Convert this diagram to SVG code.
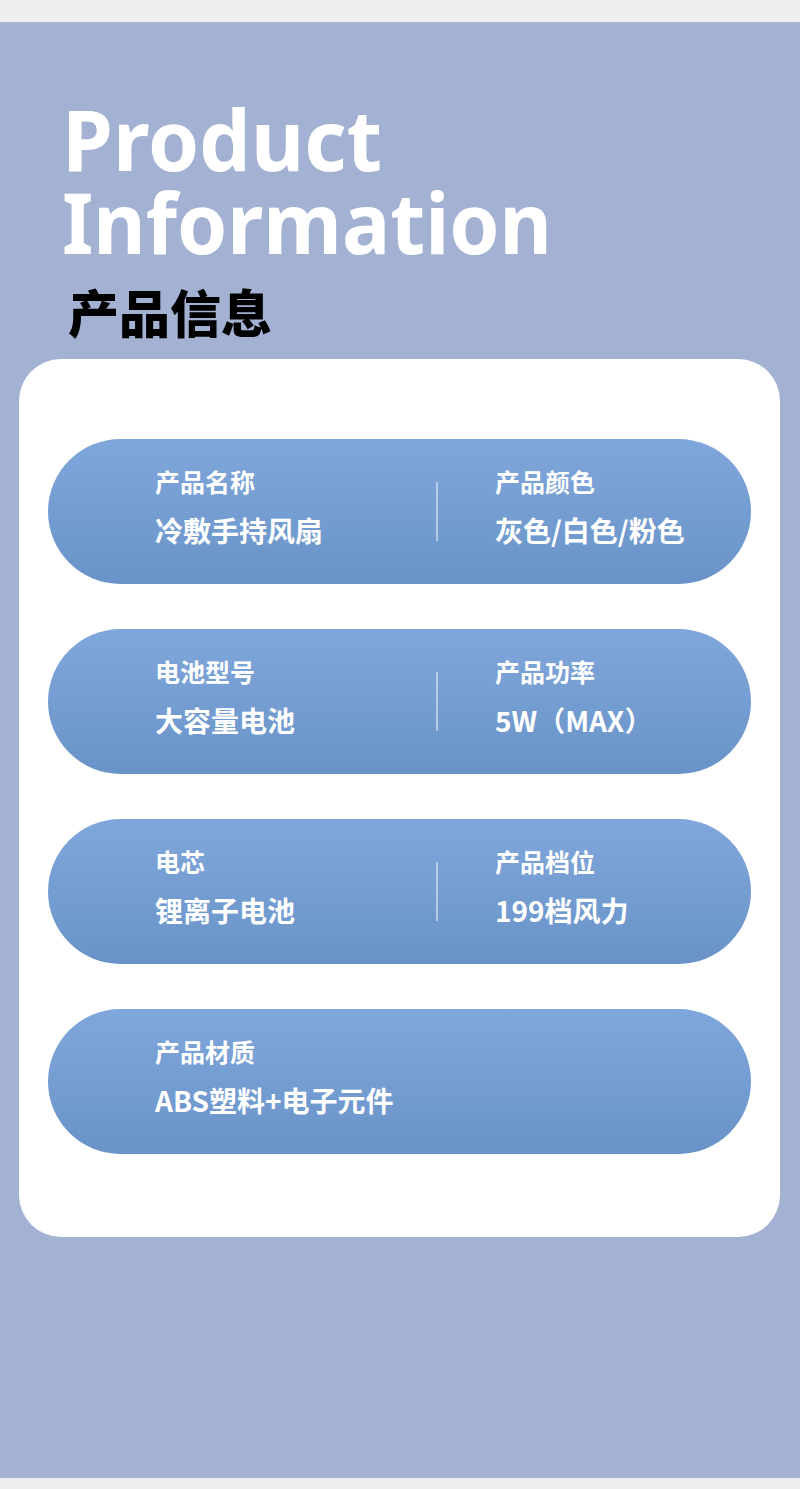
<svg xmlns="http://www.w3.org/2000/svg" width="800" height="1489" viewBox="0 0 800 1489">
<defs>
<linearGradient id="pg" x1="0" y1="0" x2="0" y2="1"><stop offset="0" stop-color="#80a7db"/><stop offset="1" stop-color="#6993c8"/></linearGradient>
<style>
.l{font-family:"Noto Sans CJK SC","Noto Sans",sans-serif;font-weight:bold;font-size:25px;fill:#fff}
.v{font-family:"Noto Sans CJK SC","Noto Sans",sans-serif;font-weight:bold;font-size:28px;fill:#fff}
.d{stroke:#fff;stroke-width:1.2;opacity:0.8}
.t{font-family:"Noto Sans",sans-serif;font-weight:bold;font-size:84px;fill:#fff}
</style>
</defs>
<rect width="800" height="1489" fill="#efefef"/>
<rect y="22" width="800" height="1456" fill="#a3b2d3"/>
<text class="t" x="62" y="171" textLength="320" lengthAdjust="spacingAndGlyphs">Product</text>
<text class="t" x="62" y="254" textLength="490" lengthAdjust="spacingAndGlyphs">Information</text>
<text x="68" y="333" font-family="Noto Sans CJK SC,sans-serif" font-weight="900" font-size="51" fill="#000">产品信息</text>
<rect x="19" y="359" width="761" height="878" rx="42" fill="#fff"/>
<g id="p1"><rect x="48" y="439" width="703" height="145" rx="72.5" fill="url(#pg)"/>
<text class="l" x="155" y="492">产品名称</text><text class="v" x="155" y="542">冷敷手持风扇</text>
<line class="d" x1="437" y1="482" x2="437" y2="541"/>
<text class="l" x="495" y="492">产品颜色</text><text class="v" x="495" y="542">灰色/白色/粉色</text></g>
<g id="p2"><rect x="48" y="629" width="703" height="145" rx="72.5" fill="url(#pg)"/>
<text class="l" x="155" y="682">电池型号</text><text class="v" x="155" y="732">大容量电池</text>
<line class="d" x1="437" y1="672" x2="437" y2="731"/>
<text class="l" x="495" y="682">产品功率</text><text class="v" x="495" y="732">5W（MAX）</text></g>
<g id="p3"><rect x="48" y="819" width="703" height="145" rx="72.5" fill="url(#pg)"/>
<text class="l" x="155" y="872">电芯</text><text class="v" x="155" y="922">锂离子电池</text>
<line class="d" x1="437" y1="862" x2="437" y2="921"/>
<text class="l" x="495" y="872">产品档位</text><text class="v" x="495" y="922">199档风力</text></g>
<g id="p4"><rect x="48" y="1009" width="703" height="145" rx="72.5" fill="url(#pg)"/>
<text class="l" x="155" y="1062">产品材质</text><text class="v" x="155" y="1112">ABS塑料+电子元件</text></g>
<g id="connectors"/>
</svg>
